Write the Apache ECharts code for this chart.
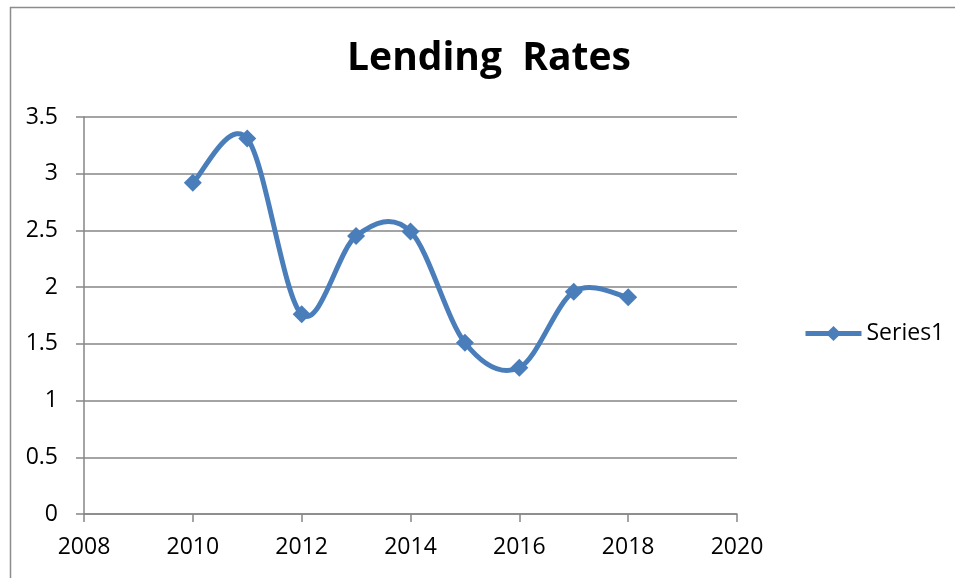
<!DOCTYPE html>
<html>
<head>
<meta charset="utf-8">
<script src="https://cdn.jsdelivr.net/npm/echarts@6/dist/echarts.min.js"></script>
<style>
  html, body { margin: 0; padding: 0; background: #fff; }
  #chart { width: 955px; height: 578px; }
</style>
</head>
<body>
<div id="chart"></div>
<script>
// Lending rate by year
const years = [2010, 2011, 2012, 2013, 2014, 2015, 2016, 2017, 2018];
const rates = [2.92, 3.31, 1.76, 2.45, 2.49, 1.51, 1.29, 1.96, 1.91];
const seriesName = 'Series1';
const chartTitle = 'Lending  Rates';

const FONT = '"Open Sans", "Liberation Sans", sans-serif';
const AXIS_GREY = '#868686';
const LINE_BLUE = '#4a7ebb';

const points = years.map((y, i) => [y, rates[i]]);

// Catmull-Rom style smoothed segment between point i and i+1,
// positioned with the chart's own coordinate system.
function renderSegment(params, api) {
  const i = params.dataIndex;
  if (i >= points.length - 1) return null;
  const p1 = api.coord(points[i]);
  const p2 = api.coord(points[i + 1]);
  const p0 = i > 0 ? api.coord(points[i - 1]) : p1;
  const p3 = i + 2 < points.length ? api.coord(points[i + 2]) : p2;
  const k = 1 / 6;
  return {
    type: 'bezierCurve',
    shape: {
      x1: p1[0], y1: p1[1],
      cpx1: p1[0] + (p2[0] - p0[0]) * k, cpy1: p1[1] + (p2[1] - p0[1]) * k,
      cpx2: p2[0] - (p3[0] - p1[0]) * k, cpy2: p2[1] - (p3[1] - p1[1]) * k,
      x2: p2[0], y2: p2[1]
    },
    style: { fill: null, stroke: LINE_BLUE, lineWidth: 5, lineCap: 'round', lineJoin: 'round' }
  };
}

const chart = echarts.init(document.getElementById('chart'), null, { renderer: 'canvas' });

chart.setOption({
  animation: false,
  backgroundColor: '#fff',
  graphic: [{
    type: 'rect',
    left: 8, top: 5,
    shape: { width: 1200, height: 800 },
    style: { fill: 'none', stroke: '#8c8c8c', lineWidth: 1.5 },
    silent: true, z: -1
  }],
  title: {
    text: chartTitle,
    left: 484, top: 34,
    textAlign: 'center',
    textStyle: { fontFamily: FONT, fontWeight: 'bold', fontSize: 39, color: '#000' }
  },
  legend: {
    left: 803, top: 322,
    padding: 0,
    itemWidth: 56, itemHeight: 19,
    data: [seriesName],
    lineStyle: { color: LINE_BLUE, width: 5, opacity: 1 },
    itemStyle: { color: LINE_BLUE },
    textStyle: { fontFamily: FONT, fontSize: 23, color: '#000' }
  },
  grid: { left: 84, right: 218, top: 117, bottom: 64, containLabel: false },
  xAxis: {
    type: 'value',
    min: 2008, max: 2020, interval: 2,
    axisLine: { show: true, lineStyle: { color: AXIS_GREY, width: 1.5 } },
    axisTick: { show: true, length: 8, lineStyle: { color: AXIS_GREY, width: 1.5 } },
    axisLabel: { fontFamily: FONT, fontSize: 23, color: '#000', margin: 22, formatter: v => String(v) },
    splitLine: { show: false }
  },
  yAxis: {
    type: 'value',
    min: 0, max: 3.5, interval: 0.5,
    axisLine: { show: true, lineStyle: { color: AXIS_GREY, width: 1.5 } },
    axisTick: { show: true, length: 8, lineStyle: { color: AXIS_GREY, width: 1.5 } },
    axisLabel: { fontFamily: FONT, fontSize: 23, color: '#000', margin: 26 },
    splitLine: { show: true, lineStyle: { color: AXIS_GREY, width: 1.5 } }
  },
  series: [{
    type: 'custom',
    name: seriesName + ' curve',
    data: points,
    renderItem: renderSegment,
    silent: true,
    z: 2
  }, {
    name: seriesName,
    type: 'line',
    data: points,
    symbol: 'diamond',
    symbolSize: 18,
    showAllSymbol: true,
    itemStyle: { color: LINE_BLUE },
    lineStyle: { color: LINE_BLUE, width: 5, opacity: 0 },
    z: 3
  }]
});
</script>
</body>
</html>
